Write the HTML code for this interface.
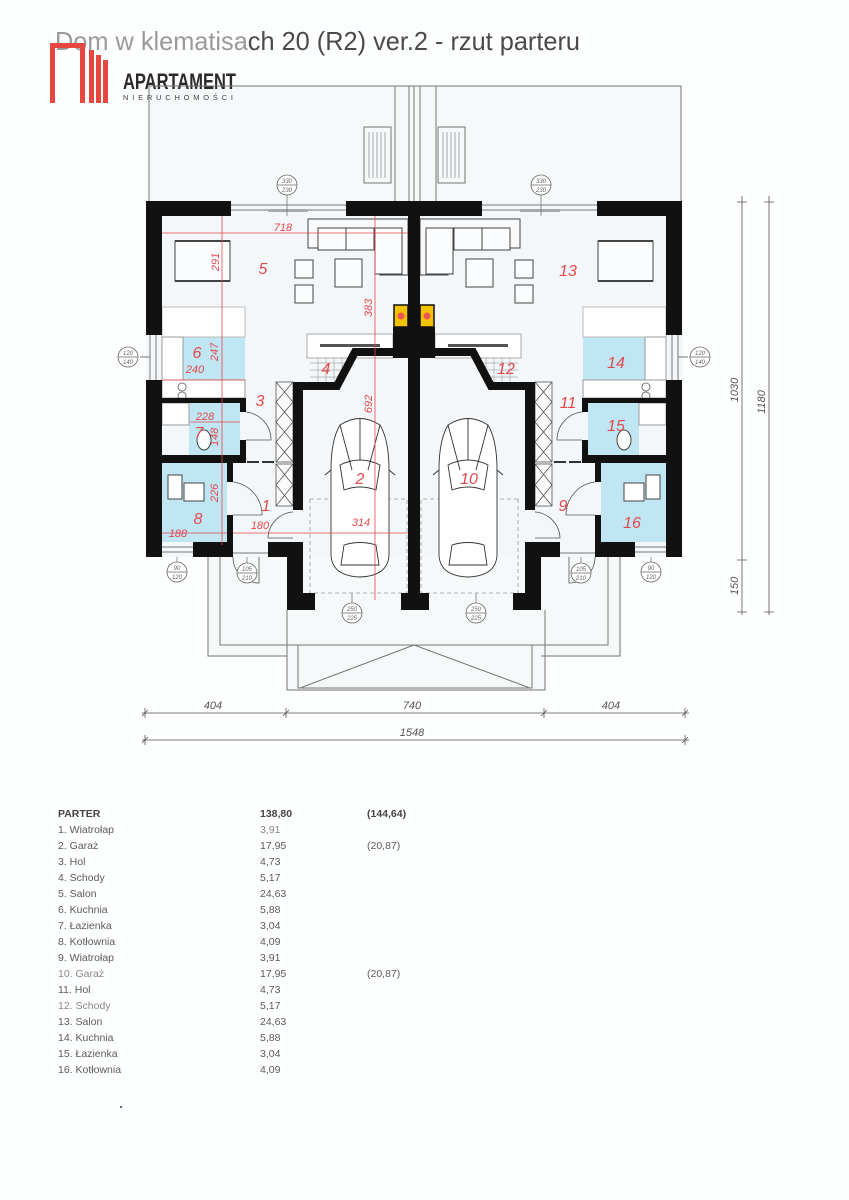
<!DOCTYPE html>
<html><head><meta charset="utf-8"><style>
html,body{margin:0;padding:0;background:#fff;}
svg{display:block;}
text{font-family:"Liberation Sans",sans-serif;}
.r{fill:#e5484d;font-style:italic;}
.t{fill:#5a5a5a;font-size:10.5px;}
</style></head><body>
<svg width="849" height="1200" viewBox="0 0 849 1200" xmlns="http://www.w3.org/2000/svg">
<rect width="849" height="1200" fill="#fdfefe"/>
<!-- plan background -->
<rect x="149" y="86" width="532" height="117" fill="#f5f9fa"/>
<rect x="146" y="201" width="537" height="356" fill="#f3f7f9"/>
<rect x="208" y="557" width="414" height="100" fill="#f6f9fa"/>
<rect x="287" y="557" width="258" height="133" fill="#f6f9fa"/>

<!-- title -->
<text x="55" y="50" font-size="26" textLength="525" lengthAdjust="spacingAndGlyphs"><tspan fill="#9a9a9a">Dom w klematisa</tspan><tspan fill="#4a4a4a">ch 20 (R2) ver.2 - rzut parteru</tspan></text>
<!-- logo -->
<g fill="#e8473f">
<rect x="50" y="43" width="5" height="60"/><rect x="50" y="43" width="35" height="5"/><rect x="80" y="43" width="5" height="60"/>
<rect x="89" y="50" width="5" height="53"/><rect x="96" y="55" width="5" height="48"/><rect x="103" y="60" width="5" height="43"/>
</g>
<text x="123" y="89" font-size="22" font-weight="bold" fill="#2a2a2a" textLength="113" lengthAdjust="spacingAndGlyphs">APARTAMENT</text>
<text x="123" y="100" font-size="7.5" fill="#444" textLength="110" lengthAdjust="spacing">NIERUCHOMOŚCI</text>

<!-- terrace top -->
<g fill="none" stroke="#777" stroke-width="1">
<path d="M149 203V86H681V203"/>
<path d="M395 86V203M409 86V203M414 86V203M420 86V203M436 86V203"/>
<rect x="364" y="127" width="27" height="56"/>
<rect x="438" y="127" width="27" height="56"/>
</g>
<g stroke="#888" stroke-width="0.7">
<path d="M369 132V178M373 132V178M377 132V178M381 132V178M385 132V178"/>
<path d="M443 132V178M447 132V178M451 132V178M455 132V178M459 132V178"/>
</g>

<!-- LEFT HALF -->
<g id="half">
 <rect x="183" y="337" width="62" height="43" fill="#bfe6f2"/>
 <rect x="189" y="403" width="51" height="52" fill="#bfe6f2"/>
 <rect x="162" y="463" width="65" height="79" fill="#bfe6f2"/>
 <g stroke="#777" stroke-width="1" fill="none">
  <path d="M231 205H346M231 210H346"/>
  <rect x="268" y="209" width="40" height="3" fill="#aaa" stroke="none"/>
  <path d="M150 335V380M156 335V380"/>
  <path d="M162 547H193M162 552H193"/>
  <path d="M208 557V656H287M220 557V645H287"/>
  <path d="M233 553H268"/>
  <path d="M140 357H150"/>
 </g>
 <g fill="#fafcfd" stroke="#444" stroke-width="1">
  <rect x="175" y="241" width="55" height="40"/>
  <path d="M308 219H408V275H380V232H318V248H308Z" fill="#f7f9fa"/>
  <rect x="318" y="228" width="28" height="22"/><rect x="346" y="228" width="28" height="22"/>
  <rect x="375" y="228" width="27" height="46"/>
  <rect x="335" y="259" width="27" height="28"/>
  <rect x="295" y="260" width="18" height="18"/><rect x="295" y="285" width="18" height="18"/>
  <rect x="162" y="307" width="83" height="30" fill="#fff" stroke="#bbb"/>
  <rect x="162" y="337" width="21" height="43" fill="#fff" stroke="#999"/>
  <rect x="162" y="380" width="83" height="18" fill="#fff" stroke="#999"/>
  <rect x="162" y="403" width="27" height="22" fill="#fff" stroke="#999"/>
  <ellipse cx="204" cy="440" rx="7" ry="10"/>
  <rect x="168" y="475" width="14" height="24" fill="#fff"/><rect x="184" y="483" width="20" height="18" fill="#fff"/>
  <rect x="307" y="334" width="86" height="24" fill="#fff" stroke="#aaa"/>
 </g>
 <path d="M175 241h55M175 281h55" stroke="#444" stroke-width="2"/>
 <path d="M182 383a4 4 0 1 0 0.1 0M182 392a4 4 0 1 0 0.1 0" stroke="#555" fill="none" stroke-width=".8"/>
 <path d="M310 363h40M310 370h40M310 377h35M318 358v24M326 358v24M334 358v24M342 358v24" stroke="#aaa" stroke-width=".7"/>
 <rect x="320" y="344" width="60" height="3" fill="#555"/>
 <g stroke="#555" fill="#fafafa" stroke-width=".8">
  <rect x="276" y="382" width="17" height="80"/><path d="M276 382L293 402M293 382L276 402M276 402L293 422M293 402L276 422M276 422L293 442M293 422L276 442M276 442L293 462M293 442L276 462"/>
  <rect x="276" y="464" width="17" height="42"/><path d="M276 464L293 485M293 464L276 485M276 485L293 506M293 485L276 506"/>
 </g>
 <g stroke="#555" fill="none" stroke-width=".8">
  <path d="M246 412A28 28 0 0 1 271 440H246"/>
  <path d="M233 482A33 33 0 0 1 262 515H233"/>
  <path d="M293 512A27 27 0 0 0 268 538H293"/>
  <path d="M233 557A26 26 0 0 0 259 583V557"/>
  <rect x="310" y="499" width="97" height="94" stroke-dasharray="4 3" stroke="#999"/>
 </g>
 <g stroke="#333" fill="#fff" stroke-width=".9">
  <path d="M340 425Q360 412 380 425Q389 440 389 470V555Q388 576 360 577Q332 576 331 555V470Q331 440 340 425Z"/>
  <path d="M340 465Q360 455 380 465L376 490Q360 484 344 490Z"/>
  <path d="M344 545Q360 540 376 545L379 565H341Z"/>
  <path d="M340 425L352 470M380 425L368 470M360 418V460"/>
  <path d="M331 470L325 475M389 470L395 475"/>
 </g>
 <g fill="#111">
  <rect x="146" y="201" width="85" height="15"/>
  <rect x="346" y="201" width="68" height="15"/>
  <rect x="146" y="201" width="16" height="134"/>
  <rect x="146" y="380" width="16" height="177"/>
  <rect x="162" y="398" width="84" height="5"/>
  <rect x="240" y="398" width="6" height="14"/><rect x="240" y="440" width="6" height="23"/>
  <rect x="162" y="455" width="84" height="8"/>
  <rect x="227" y="463" width="6" height="19"/><rect x="227" y="515" width="6" height="42"/>
  <rect x="193" y="542" width="40" height="15"/>
  <rect x="393" y="327" width="42" height="31"/>
  <rect x="293" y="384" width="10" height="126"/>
  <rect x="268" y="542" width="35" height="15"/>
  <rect x="287" y="542" width="16" height="68"/>
  <rect x="287" y="593" width="28" height="17"/>
 </g>
 <polyline points="293,386 337,386 355,352 412,352" fill="none" stroke="#111" stroke-width="8"/>
 <rect x="247" y="461" width="12" height="2" fill="#333"/><rect x="262" y="461" width="12" height="2" fill="#333"/>
 <rect x="394" y="305" width="14" height="22" fill="#f2c200" stroke="#111" stroke-width="1.5"/>
 <circle cx="401" cy="316" r="3.5" fill="#e55"/>
 <g fill="#fff" stroke="#666" stroke-width=".8">
  <circle cx="287" cy="185" r="10"/><circle cx="128" cy="357" r="10"/>
  <circle cx="177" cy="572" r="10"/><circle cx="247" cy="573" r="10"/><circle cx="352" cy="613" r="10"/>
 </g>
 <path d="M277 185h20M118 357h20M167 572h20M237 573h20M342 613h20M287 195V216M177 557V562M247 557V563M352 593V603" stroke="#666" stroke-width=".7"/>
</g>
<use href="#half" transform="matrix(-1 0 0 1 828 0)"/>
<rect x="408" y="201" width="12" height="409" fill="#111"/>
<rect x="401" y="593" width="28" height="17" fill="#111"/>

<g fill="none" stroke="#777" stroke-width="1">
 <path d="M287 610V690H545V610"/>
 <path d="M280 645H560"/>
 <path d="M298 645V688H532V645"/>
 <path d="M414 645L300 688M414 645L530 688"/>
</g>

<g font-size="6" fill="#666" font-style="italic" text-anchor="middle">
 <text x="287" y="183">330</text><text x="287" y="192">230</text>
 <text x="541" y="183">330</text><text x="541" y="192">230</text>
 <text x="128" y="355">120</text><text x="128" y="364">140</text>
 <text x="700" y="355">120</text><text x="700" y="364">140</text>
 <text x="177" y="570">90</text><text x="177" y="579">120</text>
 <text x="651" y="570">90</text><text x="651" y="579">120</text>
 <text x="247" y="571">105</text><text x="247" y="580">210</text>
 <text x="581" y="571">105</text><text x="581" y="580">210</text>
 <text x="352" y="611">250</text><text x="352" y="620">225</text>
 <text x="476" y="611">250</text><text x="476" y="620">225</text>
</g>

<g stroke="#e5484d" stroke-width=".8" fill="none">
 <path d="M162 233H408M222 216V545M375 216V600M162 380H245M190 422H240M162 533H227M233 533H408"/>
</g>
<g class="r" font-size="11" text-anchor="middle">
 <text x="283" y="231">718</text>
 <text x="195" y="373">240</text>
 <text x="205" y="420">228</text>
 <text x="178" y="537">188</text>
 <text x="260" y="529">180</text>
 <text x="361" y="526">314</text>
 <text transform="translate(219,262) rotate(-90)">291</text>
 <text transform="translate(372,308) rotate(-90)">383</text>
 <text transform="translate(372,404) rotate(-90)">692</text>
 <text transform="translate(218,352) rotate(-90)">247</text>
 <text transform="translate(218,437) rotate(-90)">148</text>
 <text transform="translate(218,493) rotate(-90)">226</text>
</g>
<g class="r" font-size="16" text-anchor="middle">
 <text x="263" y="274">5</text><text x="568" y="276">13</text>
 <text x="197" y="358">6</text><text x="616" y="368">14</text>
 <text x="260" y="406">3</text><text x="568" y="408">11</text>
 <text x="199" y="438">7</text><text x="616" y="431">15</text>
 <text x="326" y="374">4</text><text x="506" y="374">12</text>
 <text x="360" y="484">2</text><text x="469" y="484">10</text>
 <text x="266" y="511">1</text><text x="563" y="511">9</text>
 <text x="198" y="524">8</text><text x="632" y="528">16</text>
</g>

<g stroke="#555" stroke-width=".8" fill="none">
 <path d="M142 713H689M142 740H689"/>
 <path d="M145 708V718M286 708V718M544 708V718M685 708V718M145 735V745M685 735V745"/>
 <path d="M142 716L148 710M283 716L289 710M541 716L547 710M682 716L688 710M142 743L148 737M682 743L688 737"/>
 <path d="M742 196V615M769 196V615M737 202H747M764 202H774M737 560H747M737 612H747M764 612H774"/>
</g>
<g fill="#555" font-size="11" font-style="italic" text-anchor="middle">
 <text x="213" y="709">404</text><text x="412" y="709">740</text><text x="611" y="709">404</text>
 <text x="412" y="736">1548</text>
 <text transform="translate(738,390) rotate(-90)">1030</text>
 <text transform="translate(765,402) rotate(-90)">1180</text>
 <text transform="translate(738,586) rotate(-90)">150</text>
</g>

<g class="t">
 <text x="58" y="817" font-weight="bold" fill="#444">PARTER</text><text x="260" y="817" font-weight="bold" fill="#444">138,80</text><text x="367" y="817" font-weight="bold" fill="#444">(144,64)</text>
 <text x="58" y="833">1. Wiatrołap</text><text x="260" y="833" fill="#888">3,91</text>
 <text x="58" y="849">2. Garaż</text><text x="260" y="849">17,95</text><text x="367" y="849">(20,87)</text>
 <text x="58" y="865">3. Hol</text><text x="260" y="865">4,73</text>
 <text x="58" y="881">4. Schody</text><text x="260" y="881">5,17</text>
 <text x="58" y="897">5. Salon</text><text x="260" y="897">24,63</text>
 <text x="58" y="913">6. Kuchnia</text><text x="260" y="913">5,88</text>
 <text x="58" y="929">7. Łazienka</text><text x="260" y="929">3,04</text>
 <text x="58" y="945">8. Kotłownia</text><text x="260" y="945">4,09</text>
 <text x="58" y="961">9. Wiatrołap</text><text x="260" y="961">3,91</text>
 <text x="58" y="977" fill="#888">10. Garaż</text><text x="260" y="977">17,95</text><text x="367" y="977">(20,87)</text>
 <text x="58" y="993">11. Hol</text><text x="260" y="993">4,73</text>
 <text x="58" y="1009" fill="#888">12. Schody</text><text x="260" y="1009">5,17</text>
 <text x="58" y="1025">13. Salon</text><text x="260" y="1025">24,63</text>
 <text x="58" y="1041">14. Kuchnia</text><text x="260" y="1041">5,88</text>
 <text x="58" y="1057">15. Łazienka</text><text x="260" y="1057">3,04</text>
 <text x="58" y="1073">16. Kotłownia</text><text x="260" y="1073">4,09</text>
</g>
<rect x="120" y="1106" width="2" height="2" fill="#666"/>
</svg>
</body></html>
